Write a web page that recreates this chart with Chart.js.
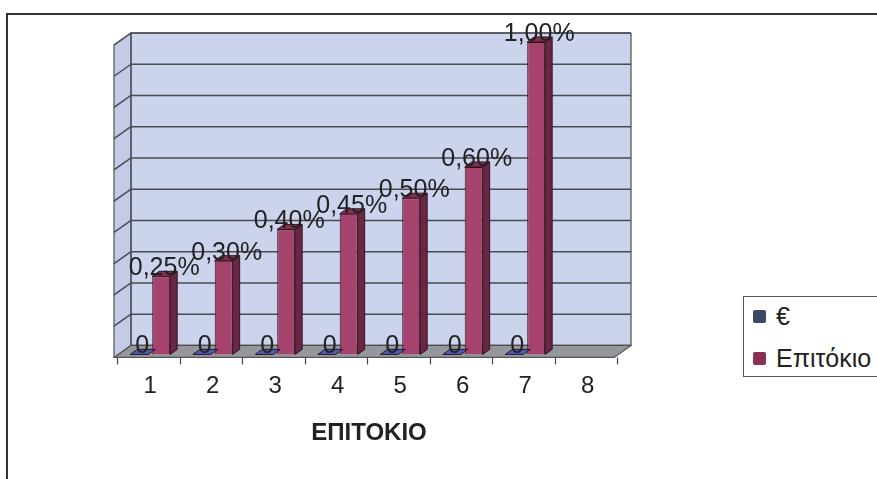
<!DOCTYPE html>
<html>
<head>
<meta charset="utf-8">
<script src="https://cdn.jsdelivr.net/npm/chart.js@4/dist/chart.umd.min.js"></script>
<style>
  html, body { margin: 0; padding: 0; background: #fff; }
  #wrap { position: relative; width: 877px; height: 479px; overflow: hidden; }
  #frame { position: absolute; left: 6px; top: 13px; right: 0; bottom: 0;
           border-top: 2px solid #333; border-left: 2px solid #333; }
  #legend { position: absolute; left: 743px; top: 296px; width: 150px; height: 81px;
            border: 1px solid #555; background: #fff; box-sizing: border-box;
            font: 25px "Liberation Sans", Arial, sans-serif; color: #222; }
  .chart-legend-item { position: absolute; left: 9px; display: flex; align-items: center; }
</style>
</head>
<body>
<div id="wrap">
  <div id="frame"></div>
  <canvas id="myChart"></canvas>
  <div id="legend"></div>
</div>
<script>
const categories = ['1', '2', '3', '4', '5', '6', '7', '8'];
const seriesNames = ['€', 'Επιτόκιο'];
const euroValues = [0, 0, 0, 0, 0, 0, 0, null];
const rateValues = [0.25, 0.30, 0.40, 0.45, 0.50, 0.60, 1.00, null]; // σε %
const axisMax = 1.0;
const axisStep = 0.1;

const frontColors = ['#3e53a6', '#a5436c'];
const sideColors = ['#26336e', '#6a2643'];
const topColors = ['#4a5fb4', '#82304f'];
const legendColors = ['#3d4866', '#8a3055'];

// βάθος 3D
const wallOff = { x: 12, y: 9 };   // επίπεδο ράβδων -> πίσω τοίχος
const frontOff = { x: 5, y: 3 };   // επίπεδο ράβδων -> μπροστινή ακμή
const barDepth = { x: 7, y: 5 };

const fmtLabel = (ds, v) => ds === 0 ? String(v) : v.toFixed(2).replace('.', ',') + '%';

// Τοίχοι, δάπεδο και γραμμές πλέγματος
const walls3d = {
    id: 'walls3d',
    beforeDraw(chart) {
        const { ctx, chartArea: a, scales: { y, x } } = chart;
        const bl = a.left + wallOff.x, br = a.right + wallOff.x;
        const bt = a.top - wallOff.y, bb = a.bottom - wallOff.y;
        const fl = a.left - frontOff.x, fr = a.right - frontOff.x;
        const fb = a.bottom + frontOff.y;
        const dy = fb - bb;
        ctx.save();
        ctx.lineJoin = 'round';
        // πίσω τοίχος
        ctx.fillStyle = '#ccd3ec';
        ctx.fillRect(bl, bt, br - bl, bb - bt);
        // αριστερός τοίχος
        ctx.fillStyle = '#c4cbe6';
        ctx.beginPath();
        ctx.moveTo(bl, bt); ctx.lineTo(bl, bb); ctx.lineTo(fl, fb); ctx.lineTo(fl, bt + dy); ctx.closePath();
        ctx.fill();
        ctx.strokeStyle = '#555';
        ctx.lineWidth = 1.2;
        ctx.stroke();
        // δάπεδο
        ctx.fillStyle = '#96979c';
        ctx.beginPath();
        ctx.moveTo(bl, bb); ctx.lineTo(br, bb); ctx.lineTo(fr, fb); ctx.lineTo(fl, fb); ctx.closePath();
        ctx.fill();
        ctx.stroke();
        // γραμμές πλέγματος
        ctx.strokeStyle = '#4a4c52';
        ctx.lineWidth = 1.5;
        y.ticks.forEach(t => {
            const py = y.getPixelForValue(t.value) - wallOff.y;
            if (t.value === 0) return;
            ctx.beginPath();
            ctx.moveTo(fl, py + dy); ctx.lineTo(bl, py); ctx.lineTo(br, py);
            ctx.stroke();
        });
        ctx.lineWidth = 1.2;
        ctx.strokeRect(bl, bt, br - bl, bb - bt);
        // σημάδια κατηγοριών
        ctx.strokeStyle = '#444';
        const w = (x.right - x.left) / categories.length;
        for (let i = 0; i <= categories.length; i++) {
            const px = Math.round(x.left + i * w - 2) + 0.5;
            ctx.beginPath();
            ctx.moveTo(px, fb); ctx.lineTo(px, fb + 7);
            ctx.stroke();
        }
        ctx.restore();
    },
    afterDatasetsDraw(chart) {
        const { ctx } = chart;
        ctx.save();
        ctx.lineWidth = 1;
        ctx.strokeStyle = '#2e1320';
        chart.data.datasets.forEach((ds, di) => {
            chart.getDatasetMeta(di).data.forEach((bar, i) => {
                const v = ds.data[i];
                if (v === null) return;
                const p = bar.getProps(['x', 'y', 'base', 'width'], true);
                const l = p.x - p.width / 2, r = p.x + p.width / 2;
                // πλευρά
                if (p.base - p.y > 0.5) {
                    ctx.fillStyle = sideColors[di];
                    ctx.beginPath();
                    ctx.moveTo(r, p.y); ctx.lineTo(r + barDepth.x, p.y - barDepth.y);
                    ctx.lineTo(r + barDepth.x, p.base - barDepth.y); ctx.lineTo(r, p.base);
                    ctx.closePath(); ctx.fill(); ctx.stroke();
                }
                // κορυφή
                ctx.fillStyle = topColors[di];
                ctx.beginPath();
                ctx.moveTo(l, p.y); ctx.lineTo(r, p.y);
                ctx.lineTo(r + barDepth.x, p.y - barDepth.y); ctx.lineTo(l + barDepth.x, p.y - barDepth.y);
                ctx.closePath(); ctx.fill(); ctx.stroke();
            });
        });
        // ετικέτες τιμών
        ctx.font = '25px "Liberation Sans", Arial, sans-serif';
        ctx.fillStyle = '#222';
        ctx.textAlign = 'center';
        ctx.textBaseline = 'middle';
        chart.data.datasets.forEach((ds, di) => {
            chart.getDatasetMeta(di).data.forEach((bar, i) => {
                const v = ds.data[i];
                if (v === null) return;
                const p = bar.getProps(['x', 'y'], true);
                ctx.fillText(fmtLabel(di, v), p.x + 3, p.y - 8);
            });
        });
        ctx.restore();
    }
};

const data = {
    labels: categories,
    datasets: [
        { label: seriesNames[0], data: euroValues, backgroundColor: frontColors[0], borderWidth: 0 },
        { label: seriesNames[1], data: rateValues, backgroundColor: frontColors[1], borderColor: '#2e1320', borderWidth: 1 }
    ]
};

const chart = new Chart(document.getElementById('myChart'), {
    type: 'bar',
    data: data,
    options: {
        responsive: true,
        maintainAspectRatio: false,
        animation: false,
        layout: { padding: { left: 119, right: 258, top: 42, bottom: 31 } },
        datasets: { bar: { categoryPercentage: 0.7, barPercentage: 0.82 } },
        plugins: {
            legend: { display: false },
            tooltip: { enabled: false }
        },
        scales: {
            x: {
                grid: { display: false, drawTicks: false },
                border: { display: false },
                ticks: {
                    color: '#222', padding: 18,
                    font: { family: '"Liberation Sans", Arial, sans-serif', size: 24 }
                },
                title: {
                    display: true, text: 'ΕΠΙΤΟΚΙΟ', color: '#222',
                    padding: { top: 0, bottom: 0 },
                    font: { family: '"Liberation Sans", Arial, sans-serif', size: 24, weight: 'bold' }
                }
            },
            y: {
                display: false,
                min: 0, max: axisMax,
                ticks: { stepSize: axisStep }
            }
        }
    },
    plugins: [walls3d]
});

// Υπόμνημα
const createLegend = (legendId, data) => {
    const legendContainer = document.getElementById(legendId);
    data.datasets.forEach((ds, index) => {
        const legendItem = document.createElement('div');
        legendItem.classList.add('chart-legend-item');
        legendItem.style.top = (index === 0 ? 5 : 47) + 'px';

        const colorBox = document.createElement('span');
        colorBox.style.display = 'inline-block';
        colorBox.style.width = '13px';
        colorBox.style.height = '13px';
        colorBox.style.borderRadius = '2px';
        colorBox.style.backgroundColor = legendColors[index];
        colorBox.style.marginRight = '10px';

        const labelText = document.createElement('span');
        labelText.textContent = ds.label;

        legendItem.appendChild(colorBox);
        legendItem.appendChild(labelText);
        legendContainer.appendChild(legendItem);
    });
};

createLegend('legend', data);
</script>
</body>
</html>
